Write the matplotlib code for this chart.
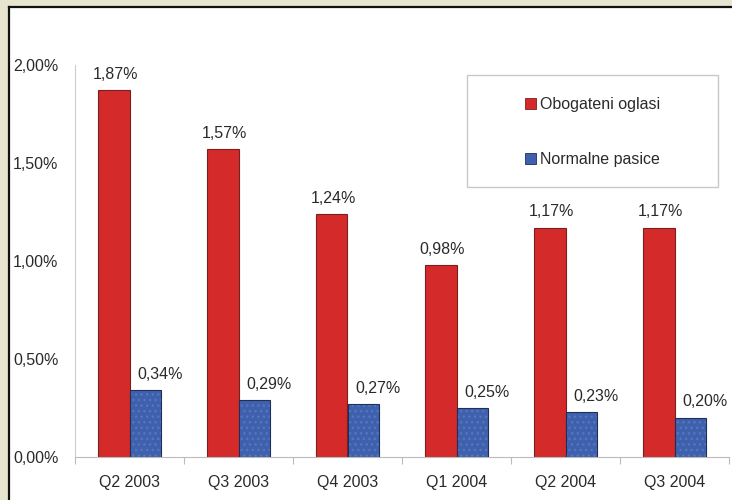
import matplotlib
matplotlib.use("Agg")
import matplotlib.pyplot as plt
from matplotlib.patches import Rectangle, Patch
from matplotlib.lines import Line2D
import numpy as np

categories = ["Q2 2003", "Q3 2003", "Q4 2003", "Q1 2004", "Q2 2004", "Q3 2004"]
obogateni = [1.87, 1.57, 1.24, 0.98, 1.17, 1.17]
normalne = [0.34, 0.29, 0.27, 0.25, 0.23, 0.20]
series_names = ["Obogateni oglasi", "Normalne pasice"]
yticks = [0.0, 0.5, 1.0, 1.5, 2.0]

def pct(v):
    return f"{v:.2f}".replace(".", ",") + "%"

plt.rcParams['font.family'] = ['Liberation Sans', 'DejaVu Sans']

W, H = 732, 500
fig = plt.figure(figsize=(W / 100, H / 100), dpi=100)
fig.patch.set_facecolor('#e7e4cf')

# white panel with dark top/left border
fig.patches.append(Rectangle((9 / W, 0), 1, 1 - 7 / H, transform=fig.transFigure,
                             facecolor='white', edgecolor='none', zorder=-10))
fig.lines.append(Line2D([9 / W, 1], [1 - 7 / H, 1 - 7 / H], transform=fig.transFigure,
                        color='#111111', lw=1.6, zorder=-5))
fig.lines.append(Line2D([9 / W, 9 / W], [0, 1 - 7 / H], transform=fig.transFigure,
                        color='#111111', lw=1.6, zorder=-5))

ax = fig.add_axes([75 / W, 43 / H, 654 / W, 392 / H])
ax.set_facecolor('none')
ax.set_zorder(1)

x = np.arange(len(categories))
bw = 0.285
red = '#d42a2a'
blue = '#3f61ad'
txt = '#2a2a2a'
fs = 11.5

ax.bar(x - bw / 2, obogateni, bw, color=red, edgecolor='#7a1f1f', linewidth=0.8, zorder=2)
# blue bars with subtle dotted texture
ax.bar(x + bw / 2, normalne, bw, color=blue, edgecolor='#5676bd', linewidth=0, hatch='...', zorder=2)
ax.bar(x + bw / 2, normalne, bw, fill=False, edgecolor='#1f2f5a', linewidth=0.8, zorder=3)

lab_kw = dict(fontsize=fs, color=txt, ha='center', va='bottom')
for xi, v in zip(x, obogateni):
    ax.annotate(pct(v), (xi - bw / 2, v), xytext=(1, 6), textcoords='offset points', **lab_kw)
for xi, v in zip(x, normalne):
    ax.annotate(pct(v), (xi + bw / 2, v), xytext=(11, 6), textcoords='offset points', **lab_kw)

ax.set_xlim(-0.5, len(categories) - 0.5)
ax.set_ylim(0, 2.0)
ax.set_yticks(yticks)
ax.set_yticklabels([pct(v) for v in yticks])
ax.set_xticks(x)
ax.set_xticklabels(categories)
ax.set_xticks(np.arange(len(categories) + 1) - 0.5, minor=True)
ax.tick_params(axis='x', which='major', length=0, pad=13, labelsize=fs, labelcolor=txt)
ax.tick_params(axis='x', which='minor', length=5, color='#bbbbbb', width=0.8)
ax.tick_params(axis='y', length=0, pad=12, labelsize=fs, labelcolor=txt)

for s in ['top', 'right']:
    ax.spines[s].set_visible(False)
ax.spines['left'].set_color('#cccccc')
ax.spines['bottom'].set_color('#bbbbbb')
ax.spines['left'].set_linewidth(0.8)
ax.spines['bottom'].set_linewidth(0.8)

# legend box
lx0, lx1, ly0, ly1 = 467, 718, 75, 187
fig.patches.append(Rectangle((lx0 / W, 1 - ly1 / H), (lx1 - lx0) / W, (ly1 - ly0) / H,
                             transform=fig.transFigure, facecolor='white',
                             edgecolor='#c8c8c8', linewidth=1.0, zorder=5))
handles = [Patch(facecolor=red, edgecolor='#7a1f1f', linewidth=0.6),
           Patch(facecolor=blue, edgecolor='#1f2f5a', linewidth=0.6)]
leg = fig.legend(handles, series_names, loc='center',
                 bbox_to_anchor=((lx0 + lx1) / 2 / W, 1 - (ly0 + ly1 + 2) / 2 / H),
                 frameon=False, fontsize=fs, labelspacing=2.5,
                 handlelength=0.7, handleheight=0.7, handletextpad=0.25)
leg.set_zorder(6)
for t in leg.get_texts():
    t.set_color(txt)

fig.savefig('out.png', dpi=100, facecolor=fig.get_facecolor())
